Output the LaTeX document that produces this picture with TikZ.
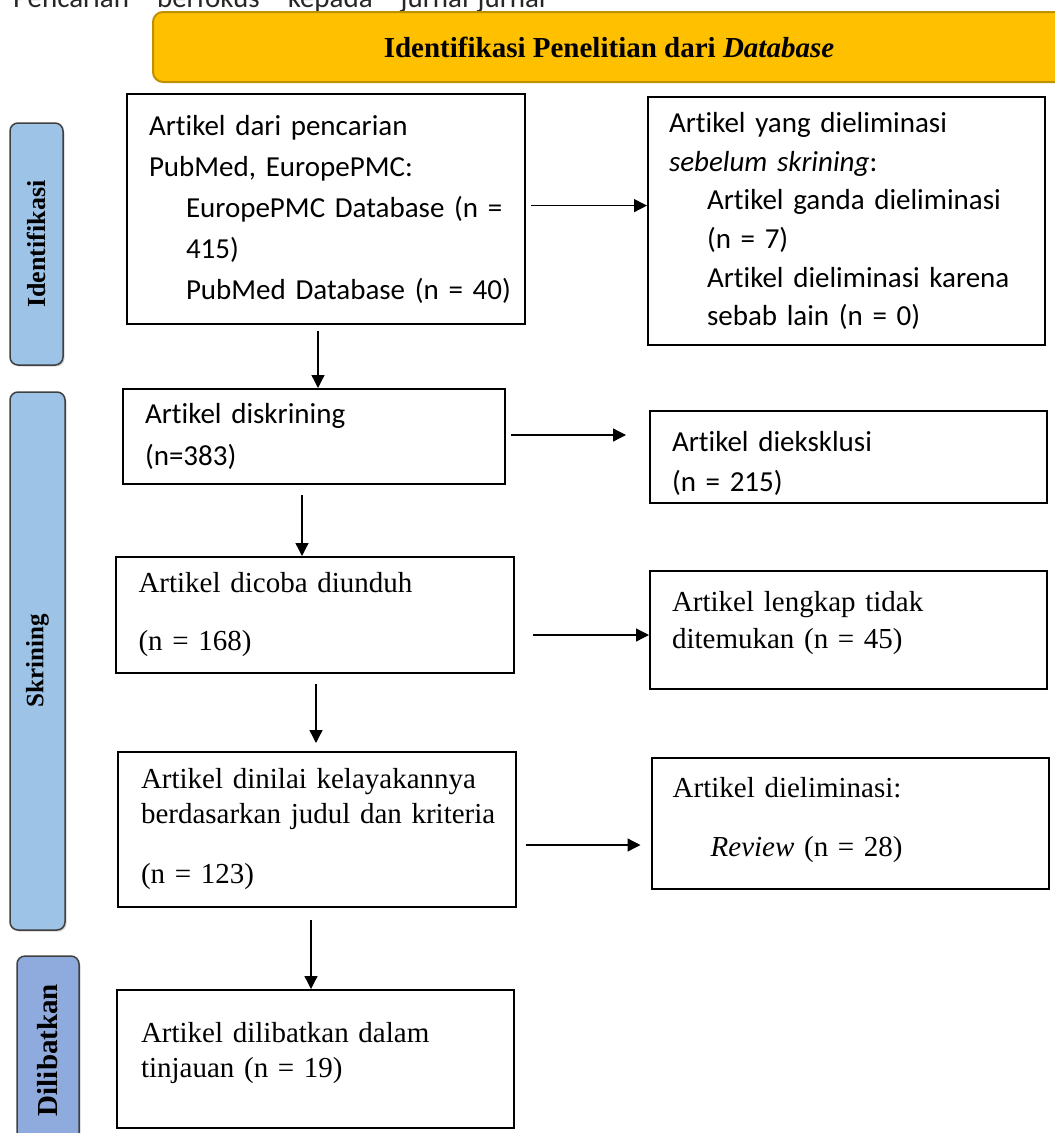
\documentclass[tikz,border=0pt]{standalone}
\usepackage{fontspec}
\setmainfont{Liberation Serif}
\newfontfamily\calib[Ligatures=NoCommon]{Carlito}
\usetikzlibrary{arrows.meta,shadows}
\definecolor{yel}{HTML}{FFC000}
\definecolor{yelb}{HTML}{BF9000}
\definecolor{sideblue}{HTML}{9DC3E6}
\definecolor{sideblue2}{HTML}{8FAADC}
\begin{document}
\begin{tikzpicture}[x=1pt,y=-1pt,
  box/.style={draw=black,line width=2pt,rectangle,inner sep=0pt,align=left},
  calf/.style={font=\calib\fontsize{29}{#1}\selectfont},
  timf/.style={font=\fontsize{29}{#1}\selectfont},
  side/.style={draw=black!75,line width=1.5pt,rounded corners=8pt,inner sep=0pt,
    drop shadow={shadow xshift=1.5pt,shadow yshift=-1.5pt,opacity=0.35}},
  arr/.style={-{Triangle[length=13pt,width=13pt]},line width=1.3pt}]
\useasboundingbox (0,0) rectangle (1055,1133);

% cut-off sentence at top
\node[anchor=base west,inner sep=0pt,font=\calib\fontsize{29}{35}\selectfont,text=black!85] (toptext) at (13,7)
  {Pencarian\hspace{28pt}berfokus\hspace{28pt}kepada\hspace{28pt}jurnal-jurnal};

% title banner
\node[draw=yelb,fill=yel,line width=2pt,rounded corners=10pt,minimum width=912pt,minimum height=70pt,
  font=\fontsize{29}{35}\selectfont\bfseries] (title) at (609,47)
  {Identifikasi Penelitian dari \textit{Database}};

% side labels
\node[side,fill=sideblue,minimum width=53pt,minimum height=242pt] (S1) at (36.5,244)
  {\rotatebox{90}{\fontsize{26}{30}\selectfont\bfseries Identifikasi}};
\node[side,fill=sideblue,minimum width=55pt,minimum height=538pt] (S2) at (37.5,661)
  {\rotatebox{90}{\fontsize{25}{30}\selectfont\bfseries Skrining}};
\node[side,fill=sideblue2,minimum width=62pt,minimum height=188pt] (S3) at (48,1050)
  {\rotatebox{90}{\fontsize{29}{30}\selectfont\bfseries Dilibatkan}};

% left column
\node[box,calf=41,minimum width=398pt,minimum height=230pt,text width=354pt] (B1) at (326,209)
  {Artikel dari pencarian\\
   PubMed, EuropePMC:\\
   \hspace*{37pt}\mbox{EuropePMC Database (n =}\\
   \hspace*{37pt}415)\\
   \hspace*{37pt}\mbox{PubMed Database (n = 40)}};
\node[box,calf=42,minimum width=382pt,minimum height=95pt,text width=338pt] (D) at (314,436.5)
  {Artikel diskrining\\(n=383)};
\node[box,timf=35,minimum width=397.5pt,minimum height=116pt,text width=353pt] (C) at (315,615)
  {Artikel dicoba diunduh\\[23pt](n = 168)};
\node[box,timf=35,minimum width=398pt,minimum height=155pt,text width=352pt] (G) at (317,829.5)
  {Artikel dinilai kelayakannya\\
   \mbox{berdasarkan judul dan kriteria}\\[25pt]
   (n = 123)};
\node[box,timf=35,minimum width=397pt,minimum height=138pt,text width=349pt] (I) at (315.5,1059)
  {Artikel dilibatkan dalam\\tinjauan (n = 19)\rule[-19pt]{0pt}{19pt}};

% right column
\node[box,calf=38.7,minimum width=397pt,minimum height=248pt,text width=355pt] (R1) at (846.5,221)
  {Artikel yang dieliminasi\\
   \textit{sebelum skrining}:\\
   \hspace*{38pt}\mbox{Artikel ganda dieliminasi}\\
   \hspace*{38pt}(n = 7)\\
   \hspace*{38pt}\mbox{Artikel dieliminasi karena}\\
   \hspace*{38pt}\mbox{sebab lain (n = 0)}};
\node[box,calf=40,minimum width=397pt,minimum height=92pt,text width=353pt] (E) at (848.5,457)
  {\rule{0pt}{34pt}Artikel dieksklusi\\(n = 215)};
\node[box,timf=36.3,minimum width=397pt,minimum height=118pt,text width=353pt] (F) at (848.5,630)
  {Artikel lengkap tidak\\ditemukan (n = 45)\rule[-20pt]{0pt}{20pt}};
\node[box,timf=35,minimum width=397pt,minimum height=131pt,text width=354.6pt] (H) at (850,823.5)
  {Artikel dieliminasi:\\[23.7pt]\hspace*{38pt}\textit{Review} (n = 28)\rule[-13pt]{0pt}{13pt}};

% arrows
\draw[arr] ([xshift=5pt,yshift=3.4pt]B1.east) -- ([yshift=3.4pt]B1.east -| R1.west);
\draw[arr] ([xshift=-8pt,yshift=-6pt]B1.south) -- ([xshift=-8pt]B1.south |- D.north);
\draw[arr] ([xshift=5pt,yshift=1.5pt]D.east) -- ([xshift=-23pt,yshift=1.5pt]D.east -| E.west);
\draw[arr] ([xshift=-12pt,yshift=-10pt]D.south) -- ([xshift=-12pt]D.south |- C.north);
\draw[arr] ([xshift=18pt,yshift=-20pt]C.east) -- ([yshift=-20pt]C.east -| F.west);
\draw[arr] ([xshift=1pt,yshift=-10pt]C.south) -- ([xshift=1pt,yshift=8pt]C.south |- G.north);
\draw[arr] ([xshift=8.5pt,yshift=-15.5pt]G.east) -- ([yshift=-15.5pt,xshift=-10pt]G.east -| H.west);
\draw[arr] ([xshift=-6pt,yshift=-12pt]G.south) -- ([xshift=-6pt]G.south |- I.north);
\end{tikzpicture}
\end{document}
